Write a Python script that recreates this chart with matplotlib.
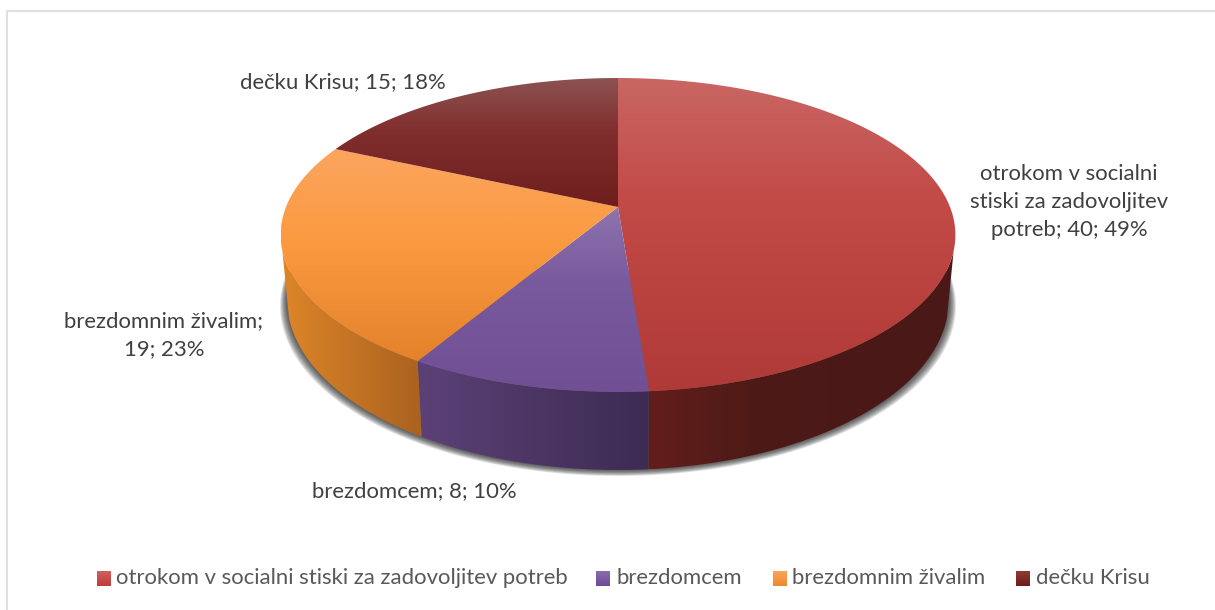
import numpy as np
import matplotlib
matplotlib.use('Agg')
from matplotlib import pyplot as plt
from matplotlib.colors import to_rgb
from matplotlib.patches import Polygon

categories = ['otrokom v socialni stiski za zadovoljitev potreb', 'brezdomcem',
              'brezdomnim živalim', 'dečku Krisu']
values = [40, 8, 19, 15]
labels = ['otrokom v socialni\nstiski za zadovoljitev\npotreb; 40; 49%', 'brezdomcem; 8; 10%',
          'brezdomnim živalim;\n19; 23%', 'dečku Krisu; 15; 18%']

# colours of the top face, by pixel row
top_colors = [
    [(78, '#c96663'), (200, '#c24a47'), (392, '#b03a37')],
    [(207, '#8e74ae'), (280, '#7a5a9e'), (392, '#704f94')],
    [(150, '#fba55f'), (240, '#fb9a40'), (362, '#e3822b')],
    [(78, '#8c5252'), (130, '#812f2e'), (207, '#6e1e1d')],
]
# colours of the side, left to right
side_colors = [['#631e1b', '#4e1a17', '#4a1917', '#4a1917'],
               ['#5c4177', '#3c2b52'],
               ['#dd8529', '#aa621f']]
swatch_colors = [('#d0605e', '#c03c3a'), ('#8a6cab', '#6e4c94'), ('#fba35a', '#ee8a2f'), ('#8c3a38', '#701c1c')]

fig = plt.figure(figsize=(12.15, 6.10), dpi=100)
ax = fig.add_axes([0, 0, 1, 1])
plt.rcParams['font.family'] = ['Lato', 'DejaVu Sans']

k = 0.178
cx = 618


def rim(theta, r, a, b):
    # circle seen in perspective, theta clockwise from the top
    x = np.sin(theta)
    y = np.cos(theta)
    d = 1 + k * y
    return cx + r * x / d, (a + b * y) / d


def top_rim(theta):
    return rim(theta, 332, 207, -115.1)


def bottom_rim(theta):
    return rim(theta, 325.5, 269.8, -116.5)


def fill_vertical(patch, stops):
    ax.add_patch(patch)
    patch.set_edgecolor('none')
    patch.set_facecolor('none')
    x0, y0 = patch.get_xy().min(axis=0)
    x1, y1 = patch.get_xy().max(axis=0)
    rows = np.arange(int(y0) - 1, int(y1) + 2)
    ys = [s[0] for s in stops]
    cols = np.array([to_rgb(s[1]) for s in stops])
    img = np.stack([np.interp(rows, ys, cols[:, i]) for i in range(3)], axis=1)[:, None, :]
    im = ax.imshow(img, extent=(x0, x1, rows[-1], rows[0]), aspect='auto', zorder=patch.get_zorder())
    im.set_clip_path(patch)


def fill_horizontal(patch, stops):
    ax.add_patch(patch)
    patch.set_edgecolor('none')
    patch.set_facecolor('none')
    x0, y0 = patch.get_xy().min(axis=0)
    x1, y1 = patch.get_xy().max(axis=0)
    cols = np.array([to_rgb(c) for c in stops])
    t = np.linspace(0, 1, 128)
    pos = np.linspace(0, 1, len(stops))
    img = np.stack([np.interp(t, pos, cols[:, i]) for i in range(3)], axis=1)[None, :, :]
    im = ax.imshow(img, extent=(x0, x1, y1, y0), aspect='auto', zorder=patch.get_zorder())
    im.set_clip_path(patch)


# slice angles from the values
edges = np.cumsum([0] + values) / sum(values) * 2 * np.pi
side_start = np.radians(106)
side_end = np.radians(254)

# shadow under the body
t = np.linspace(side_start - 0.3, side_end + 0.3, 200)
for i in range(7, 0, -1):
    bx, by = bottom_rim(t)
    sx = cx + (bx - cx) * (1 + i * 1.0 / 330)
    ax.fill(sx, by + i * 0.85, color='#202020', alpha=0.15, lw=0, zorder=1)

# sides
for i in range(3):
    a0 = max(edges[i], side_start)
    a1 = min(edges[i + 1], side_end)
    t = np.linspace(a0, a1, 120)
    tx, ty = top_rim(t)
    bx, by = bottom_rim(t[::-1])
    pts = np.column_stack([np.r_[tx, bx], np.r_[ty, by]])
    fill_horizontal(Polygon(pts, closed=True, zorder=2), side_colors[i])

# top face
for i in range(4):
    t = np.linspace(edges[i], edges[i + 1], 200)
    tx, ty = top_rim(t)
    pts = np.column_stack([np.r_[cx, tx], np.r_[207, ty]])
    fill_vertical(Polygon(pts, closed=True, zorder=3), top_colors[i])

# data labels
label_pos = [(1069, 201.5), (414, 491), (164, 335), (343, 82)]
for (x, y), s in zip(label_pos, labels):
    ax.text(x, y, s, ha='center', va='center', color='#404040', fontsize=15.9,
            linespacing=1.5, zorder=5)

# legend
swatch_x = [97, 596, 773, 1016]
text_x = [116, 617, 792, 1036]
for i in range(4):
    x = swatch_x[i]
    rect = [(x, 571), (x + 14, 571), (x + 14, 586), (x, 586)]
    fill_vertical(Polygon(rect, closed=True, zorder=5),
                  [(571, swatch_colors[i][0]), (586, swatch_colors[i][1])])
    ax.text(text_x[i], 578, categories[i], ha='left', va='center', color='#595959',
            fontsize=15.9, zorder=5)

# chart frame, only left and top show
ax.plot([7, 7, 1215], [610, 10.5, 10.5], color='#e0e0e0', lw=1.5, zorder=0)

ax.set_xlim(0, 1215)
ax.set_ylim(610, 0)
ax.axis('off')

fig.savefig('out.png', dpi=100)
